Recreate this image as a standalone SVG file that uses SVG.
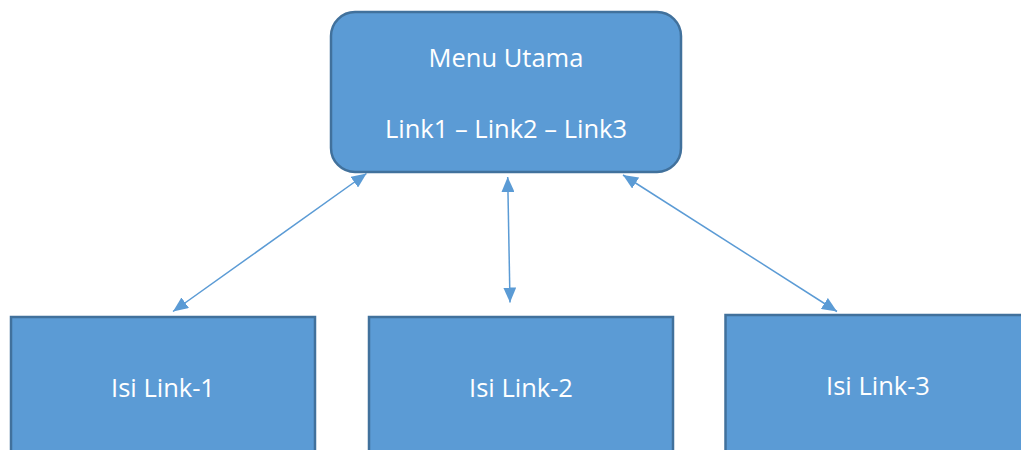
<svg xmlns="http://www.w3.org/2000/svg" width="1021" height="450" viewBox="0 0 1021 450">
<defs>
<style>
.box{fill:#5B9BD5;stroke:#41719C;stroke-width:2.5}
.t{fill:#ffffff;font-family:"Open Sans","Liberation Sans",sans-serif;font-size:25.5px;text-anchor:middle}
.c{stroke:#5B9BD5;stroke-width:1.5;fill:none;marker-start:url(#ah);marker-end:url(#ah)}
</style>
<marker id="ah" viewBox="0 0 10 10" refX="10" refY="5" markerWidth="15" markerHeight="13" markerUnits="userSpaceOnUse" orient="auto-start-reverse" preserveAspectRatio="none">
<path d="M0,0 L10,5 L0,10 z" fill="#5B9BD5"/>
</marker>
</defs>
<rect width="1021" height="450" fill="#ffffff"/>
<g id="connectors">
<line class="c" x1="366.5" y1="173.5" x2="173" y2="311.5"/>
<line class="c" x1="507.7" y1="177" x2="510" y2="302.5"/>
<line class="c" x1="623" y1="175" x2="837" y2="311.5"/>
</g>
<g id="menu-utama">
<rect class="box" x="331" y="12" width="350" height="160" rx="24" ry="24"/>
<text class="t" x="506" y="67">Menu Utama</text>
<text class="t" x="506" y="138">Link1 – Link2 – Link3</text>
</g>
<g id="isi-link-1">
<rect class="box" x="11" y="317" width="304" height="145"/>
<text class="t" x="163" y="397">Isi Link-1</text>
</g>
<g id="isi-link-2">
<rect class="box" x="369" y="317" width="304" height="145"/>
<text class="t" x="521" y="397">Isi Link-2</text>
</g>
<g id="isi-link-3">
<rect class="box" x="725.5" y="315" width="310" height="147"/>
<text class="t" x="878" y="395">Isi Link-3</text>
</g>
</svg>
